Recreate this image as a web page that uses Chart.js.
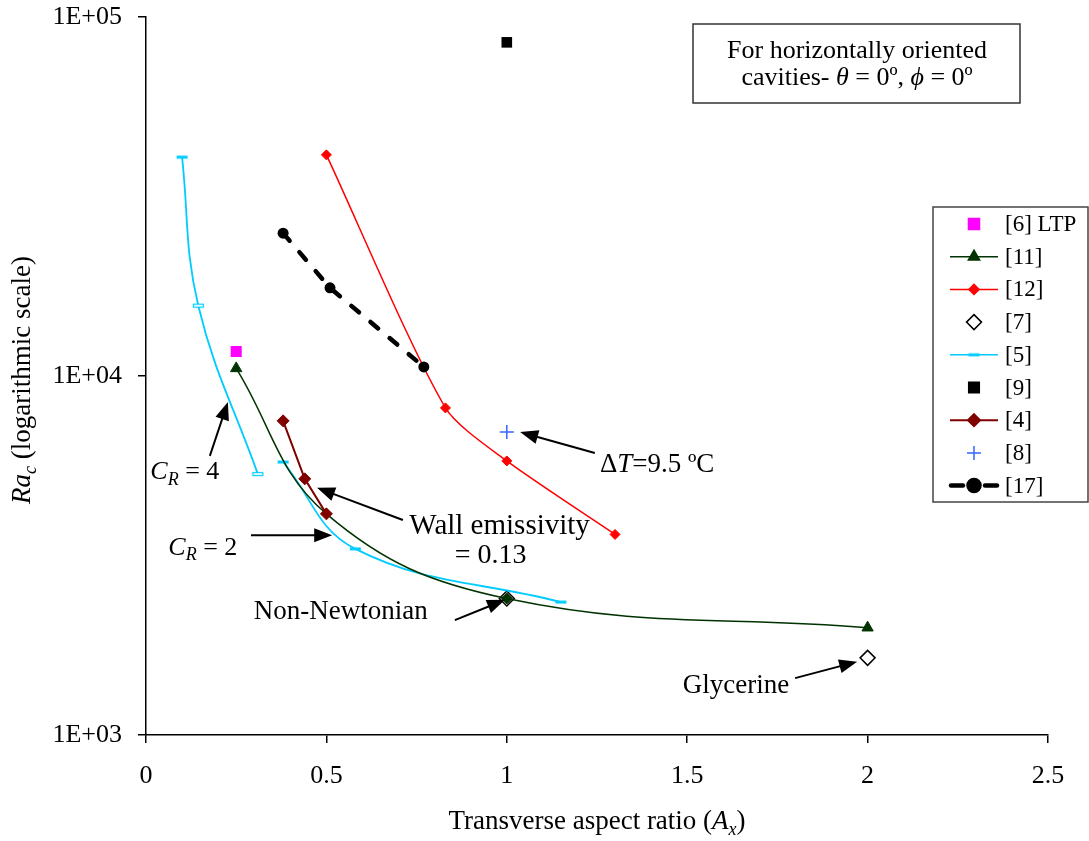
<!DOCTYPE html>
<html>
<head>
<meta charset="utf-8">
<script src="https://cdn.jsdelivr.net/npm/chart.js@4.4.0/dist/chart.umd.min.js"></script>
<style>
  html, body { margin: 0; padding: 0; background: #fff; }
  #wrap { width: 1089px; height: 841px; }
</style>
</head>
<body>
<div id="wrap"><canvas id="chart" width="1089" height="841"></canvas></div>
<script>
const FONT = "'Liberation Serif', 'Times New Roman', serif";

// Transverse aspect ratio (x) vs critical Rayleigh number (y), one pair per source
const ltpX = [0.25];
const ltpY = [11700];
const ref11X = [0.25, 0.5, 1, 2];
const ref11Y = [10500, 4130, 2400, 1990];
const ref12X = [0.5, 0.83, 1, 1.3];
const ref12Y = [41300, 8150, 5800, 3620];
const ref7X = [1, 2];
const ref7Y = [2400, 1640];
const ref5X = [0.1, 0.145, 0.31, 0.345, 0.38, 0.58, 1.15];
const ref5Y = [40700, 15700, 5330, null, 5760, 3300, 2345];
const ref9X = [1];
const ref9Y = [85000];
const ref4X = [0.38, 0.44, 0.5];
const ref4Y = [7500, 5170, 4130];
const ref8X = [1];
const ref8Y = [6980];
const ref17X = [0.38, 0.51, 0.77];
const ref17Y = [25000, 17600, 10600];

const xTicks = [0, 0.5, 1, 1.5, 2, 2.5];
const yTicks = [1000, 10000, 100000];
const yTickLabels = ['1E+03', '1E+04', '1E+05'];

const colors = {
    ltp: '#ff00ff',
    r11: '#003300',
    r12: '#ff0000',
    r5: '#00ccff',
    r4: '#800000',
    r8: '#3366ff',
    black: '#000000'
};

const pts = (xs, ys) => xs.map((x, i) => ({ x: x, y: ys[i] }));

// small dash markers used by series [5]
function makeDash(filled) {
    const c = document.createElement('canvas');
    c.width = 13; c.height = 6;
    const g = c.getContext('2d');
    if (filled) {
        g.fillStyle = colors.r5;
        g.fillRect(1, 1.5, 11, 3);
    } else {
        g.fillStyle = '#fff';
        g.fillRect(1, 1, 11, 4);
        g.strokeStyle = colors.r5;
        g.lineWidth = 1.2;
        g.strokeRect(1.5, 1.5, 10, 3);
    }
    return c;
}
const dashFull = makeDash(true);
const dashHollow = makeDash(false);

const datasets = [
    { label: '[6] LTP', data: pts(ltpX, ltpY), showLine: false, order: 9,
      pointStyle: 'rect', pointRadius: 7.8, backgroundColor: colors.ltp, borderColor: colors.ltp, pointBorderWidth: 0 },
    { label: '[11]', data: pts(ref11X, ref11Y), showLine: true, tension: 0.4, order: 4,
      borderColor: colors.r11, borderWidth: 1.5, backgroundColor: colors.r11,
      pointStyle: ['triangle', 'triangle', 'rectRot', 'triangle'], pointRadius: [6.5, 0, 5.5, 6.5], pointBorderWidth: 1 },
    { label: '[12]', data: pts(ref12X, ref12Y), showLine: true, tension: 0.25, order: 8,
      borderColor: colors.r12, borderWidth: 1.5, backgroundColor: colors.r12,
      pointStyle: 'rectRot', pointRadius: 5, pointBorderWidth: 1 },
    { label: '[7]', data: pts(ref7X, ref7Y), showLine: false, order: 7,
      pointStyle: 'rectRot', pointRadius: 7.5, backgroundColor: '#fff', borderColor: '#000', pointBorderWidth: 1.5 },
    { label: '[5]', data: pts(ref5X, ref5Y), showLine: true, tension: 0.4, spanGaps: false, order: 6,
      borderColor: colors.r5, borderWidth: 1.8, backgroundColor: colors.r5,
      pointStyle: [dashFull, dashHollow, dashHollow, dashFull, dashFull, dashFull, dashFull], pointRadius: 6 },
    { label: '[9]', data: pts(ref9X, ref9Y), showLine: false, order: 5,
      pointStyle: 'rect', pointRadius: 7.5, backgroundColor: '#000', borderColor: '#000', pointBorderWidth: 0 },
    { label: '[4]', data: pts(ref4X, ref4Y), showLine: true, tension: 0, order: 3,
      borderColor: colors.r4, borderWidth: 2, backgroundColor: colors.r4,
      pointStyle: 'rectRot', pointRadius: 6, pointBorderWidth: 1 },
    { label: '[8]', data: pts(ref8X, ref8Y), showLine: false, order: 2,
      pointStyle: 'cross', pointRadius: 7, borderColor: colors.r8, backgroundColor: colors.r8, pointBorderWidth: 1.5 },
    { label: '[17]', data: pts(ref17X, ref17Y), showLine: true, tension: 0, order: 1,
      borderColor: '#000', borderWidth: 4.5, borderDash: [10, 15], borderCapStyle: 'round', backgroundColor: '#000',
      pointStyle: 'circle', pointRadius: 5.5, pointBorderWidth: 0 }
];

// legend rows: [label, color, line?, marker style, radius, fill, dashed]
const legendRows = [
    ['[6] LTP', colors.ltp, false, 'rect', 7.8, colors.ltp],
    ['[11]', colors.r11, true, 'triangle', 6.5, colors.r11],
    ['[12]', colors.r12, true, 'rectRot', 5, colors.r12],
    ['[7]', '#000', false, 'rectRot', 7.5, '#fff'],
    ['[5]', colors.r5, true, dashFull, 6, colors.r5],
    ['[9]', '#000', false, 'rect', 7.5, '#000'],
    ['[4]', colors.r4, true, 'rectRot', 6, colors.r4],
    ['[8]', colors.r8, false, 'cross', 7, colors.r8],
    ['[17]', '#000', true, 'circle', 5.5, '#000', true]
];

function arrow(ctx, x1, y1, x2, y2) {
    const a = Math.atan2(y2 - y1, x2 - x1), L = 18, W = 7;
    ctx.save();
    ctx.strokeStyle = '#000';
    ctx.fillStyle = '#000';
    ctx.lineWidth = 2;
    ctx.beginPath();
    ctx.moveTo(x1, y1);
    ctx.lineTo(x2 - L * 0.8 * Math.cos(a), y2 - L * 0.8 * Math.sin(a));
    ctx.stroke();
    ctx.beginPath();
    ctx.moveTo(x2, y2);
    ctx.lineTo(x2 - L * Math.cos(a) + W * Math.sin(a), y2 - L * Math.sin(a) - W * Math.cos(a));
    ctx.lineTo(x2 - L * Math.cos(a) - W * Math.sin(a), y2 - L * Math.sin(a) + W * Math.cos(a));
    ctx.closePath();
    ctx.fill();
    ctx.restore();
}

// parts: [text, italic, subscript]
function rich(ctx, parts, x, y, align, size) {
    size = size || 26;
    const fontOf = p => (p[1] ? 'italic ' : '') + (p[2] ? Math.round(size * 0.68) : size) + 'px ' + FONT;
    let w = 0;
    parts.forEach(p => { ctx.font = fontOf(p); w += ctx.measureText(p[0]).width; });
    let cx = align === 'center' ? x - w / 2 : x;
    ctx.textAlign = 'left';
    ctx.textBaseline = 'middle';
    ctx.fillStyle = '#000';
    parts.forEach(p => {
        ctx.font = fontOf(p);
        ctx.fillText(p[0], cx, y + (p[2] ? size * 0.3 : 0));
        cx += ctx.measureText(p[0]).width;
    });
}

// annotations anchored in data units
const notes = [
    { parts: [['C', true], ['R', true, true], [' = 4']], at: [0.012, 5400], align: 'left', size: 26 },
    { parts: [['C', true], ['R', true, true], [' = 2']], at: [0.062, 3320], align: 'left', size: 26 },
    { parts: [['Wall emissivity']], at: [0.98, 3800], align: 'center', size: 29 },
    { parts: [['= 0.13']], at: [0.955, 3150], align: 'center', size: 28 },
    { parts: [['\u0394'], ['T', true], ['=9.5 \u00baC']], at: [1.258, 5650], align: 'left', size: 27 },
    { parts: [['Non-Newtonian']], at: [0.54, 2200], align: 'center', size: 27 },
    { parts: [['Glycerine']], at: [1.635, 1370], align: 'center', size: 27 }
];
const arrows = [
    [0.177, 5990, 0.227, 8470],
    [0.291, 3600, 0.516, 3600],
    [0.712, 3970, 0.474, 4880],
    [1.244, 6100, 1.037, 6980],
    [0.856, 2090, 0.995, 2380],
    [1.799, 1440, 1.971, 1600]
];

const decorPlugin = {
    id: 'decor',
    afterDraw(chart) {
        const ctx = chart.ctx;
        const xs = chart.scales.x, ys = chart.scales.y;
        const px = v => xs.getPixelForValue(v), py = v => ys.getPixelForValue(v);

        notes.forEach(n => rich(ctx, n.parts, px(n.at[0]), py(n.at[1]), n.align, n.size));
        arrows.forEach(a => arrow(ctx, px(a[0]), py(a[1]), px(a[2]), py(a[3])));

        // axis titles
        ctx.save();
        ctx.translate(23, 380);
        ctx.rotate(-Math.PI / 2);
        rich(ctx, [['Ra', true], ['c', true, true], [' (logarithmic scale)']], 0, 0, 'center', 27);
        ctx.restore();
        rich(ctx, [['Transverse aspect ratio ('], ['A', true], ['x', true, true], [')']], 597, 822, 'center', 27);

        // info box
        ctx.save();
        ctx.fillStyle = '#fff';
        ctx.fillRect(693, 24, 327, 79);
        ctx.strokeStyle = '#333';
        ctx.lineWidth = 1.5;
        ctx.strokeRect(693, 24, 327, 79);
        ctx.restore();
        rich(ctx, [['For horizontally oriented']], 857, 51, 'center', 26);
        rich(ctx, [['cavities- '], ['\u03b8', true], [' = 0\u00ba, '], ['\u03d5', true], [' = 0\u00ba']], 857, 78, 'center', 26);

        // legend
        ctx.save();
        ctx.fillStyle = '#fff';
        ctx.fillRect(933, 207, 155, 295);
        ctx.strokeStyle = '#444';
        ctx.lineWidth = 1.5;
        ctx.strokeRect(933, 207, 155, 295);
        legendRows.forEach((r, i) => {
            const y = 224 + i * 32.7;
            const cx = 974;
            if (r[2]) {
                ctx.strokeStyle = r[1];
                if (r[6]) {
                    ctx.lineWidth = 4.5;
                    ctx.lineCap = 'round';
                    ctx.beginPath(); ctx.moveTo(951, y); ctx.lineTo(963, y); ctx.stroke();
                    ctx.beginPath(); ctx.moveTo(985, y); ctx.lineTo(997, y); ctx.stroke();
                    ctx.lineCap = 'butt';
                } else {
                    ctx.lineWidth = r[1] === colors.r4 ? 2 : 1.5;
                    ctx.beginPath(); ctx.moveTo(950, y); ctx.lineTo(998, y); ctx.stroke();
                }
            }
            ctx.fillStyle = r[5];
            ctx.strokeStyle = r[1];
            ctx.lineWidth = r[0] === '[7]' ? 1.5 : (r[3] === 'cross' ? 1.5 : 0);
            Chart.helpers.drawPoint(ctx, { pointStyle: r[3], radius: r[4], rotation: 0, borderWidth: ctx.lineWidth }, cx, y);
            ctx.fillStyle = '#000';
            ctx.font = '23px ' + FONT;
            ctx.textAlign = 'left';
            ctx.textBaseline = 'middle';
            ctx.fillText(r[0], 1005, y + 1);
        });
        ctx.restore();
    }
};

const tickFont = { family: FONT, size: 26 };

new Chart(document.getElementById('chart'), {
    type: 'scatter',
    data: { datasets: datasets },
    options: {
        responsive: false,
        animation: false,
        layout: { padding: { top: 17, right: 41, left: 0, bottom: 0 } },
        plugins: { legend: { display: false }, tooltip: { enabled: false } },
        scales: {
            x: {
                type: 'linear', min: 0, max: 2.5,
                afterBuildTicks: s => { s.ticks = xTicks.map(v => ({ value: v })); },
                afterFit: s => { s.height = 106; s.paddingLeft = 0; s.paddingRight = 0; },
                ticks: { font: tickFont, color: '#000', padding: 18, maxRotation: 0, callback: v => String(v) },
                grid: { drawOnChartArea: false, drawTicks: true, tickLength: 8, color: '#000', lineWidth: 1.5 },
                border: { display: true, color: '#000', width: 1.5 }
            },
            y: {
                type: 'logarithmic', min: 1000, max: 100000,
                afterBuildTicks: s => { s.ticks = yTicks.map(v => ({ value: v })); },
                afterFit: s => { s.width = 146; s.paddingTop = 0; s.paddingBottom = 0; },
                ticks: { font: tickFont, color: '#000', padding: 16, callback: (v, i) => yTickLabels[i] },
                grid: { drawOnChartArea: false, drawTicks: true, tickLength: 8, color: '#000', lineWidth: 1.5 },
                border: { display: true, color: '#000', width: 1.5 }
            }
        }
    },
    plugins: [decorPlugin]
});
</script>
</body>
</html>
